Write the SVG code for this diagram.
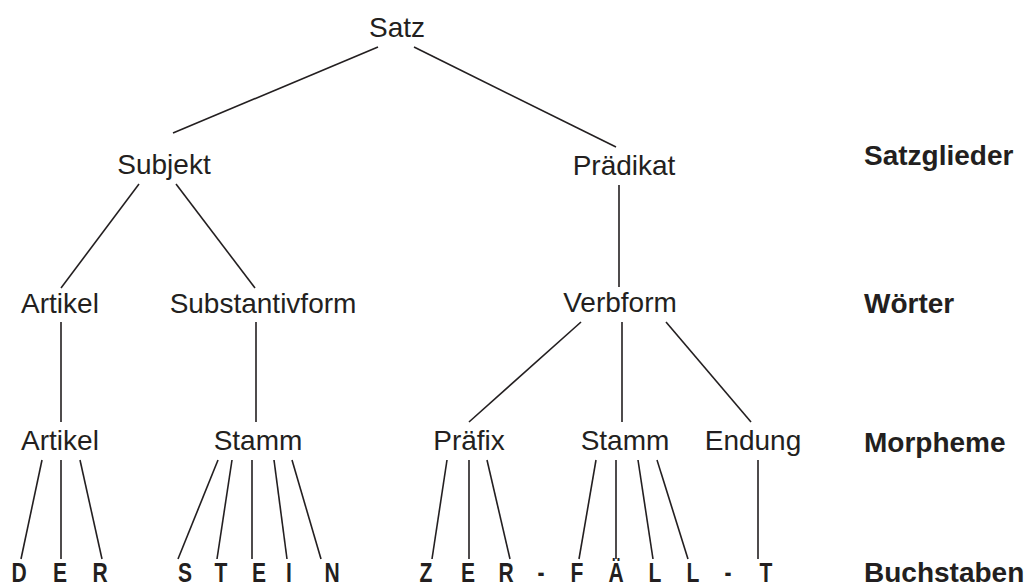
<svg xmlns="http://www.w3.org/2000/svg" width="1028" height="588" viewBox="0 0 1028 588">
  <style>
    .n { font-family: "Liberation Sans", Arial, sans-serif; font-size: 28px; fill: #231f20; text-anchor: middle; }
    .lvl { font-family: "Liberation Sans", Arial, sans-serif; font-size: 28px; font-weight: bold; fill: #231f20; }
    .ch { font-family: "Liberation Sans", Arial, sans-serif; font-size: 27px; font-weight: bold; fill: #231f20; text-anchor: middle; }
    .e { stroke: #231f20; stroke-width: 1.6; fill: none; stroke-linecap: butt; }
  </style>
  <rect width="1028" height="588" fill="#ffffff"/>

  <!-- tree edges -->
  <g id="connectors" class="e">
    <line x1="378" y1="47" x2="173" y2="133"/>
    <line x1="414" y1="47" x2="616" y2="147"/>
    <line x1="139" y1="184" x2="61" y2="288"/>
    <line x1="176" y1="184" x2="255" y2="288"/>
    <line x1="619" y1="185" x2="619" y2="287"/>
    <line x1="61" y1="322" x2="61" y2="422"/>
    <line x1="256" y1="322" x2="256" y2="422"/>
    <line x1="581" y1="322" x2="469" y2="422"/>
    <line x1="622" y1="322" x2="622" y2="422"/>
    <line x1="666" y1="322" x2="751" y2="422"/>
    <!-- Artikel -> D E R -->
    <line x1="42" y1="460" x2="21" y2="559"/>
    <line x1="61" y1="460" x2="61" y2="559"/>
    <line x1="80" y1="460" x2="102" y2="559"/>
    <!-- Stamm -> S T E I N -->
    <line x1="218" y1="460" x2="178" y2="559"/>
    <line x1="232" y1="460" x2="217" y2="559"/>
    <line x1="252" y1="460" x2="252" y2="559"/>
    <line x1="274" y1="460" x2="287" y2="559"/>
    <line x1="292" y1="460" x2="321" y2="559"/>
    <!-- Präfix -> Z E R -->
    <line x1="447" y1="460" x2="432" y2="559"/>
    <line x1="469" y1="460" x2="469" y2="559"/>
    <line x1="487" y1="460" x2="510" y2="559"/>
    <!-- Stamm -> F Ä L L -->
    <line x1="596" y1="460" x2="579" y2="559"/>
    <line x1="616" y1="460" x2="616" y2="559"/>
    <line x1="638" y1="460" x2="653" y2="559"/>
    <line x1="657" y1="460" x2="688" y2="559"/>
    <!-- Endung -> T -->
    <line x1="758" y1="460" x2="758" y2="559"/>
  </g>

  <!-- sentence level -->
  <g id="satz"><text class="n" x="397" y="37">Satz</text></g>
  <g id="subjekt"><text class="n" x="164" y="174">Subjekt</text></g>
  <g id="praedikat"><text class="n" x="624" y="175">Prädikat</text></g>

  <!-- words -->
  <g id="artikel-wort"><text class="n" x="60" y="313">Artikel</text></g>
  <g id="substantivform"><text class="n" x="263" y="313">Substantivform</text></g>
  <g id="verbform"><text class="n" x="620" y="312">Verbform</text></g>

  <!-- morphemes -->
  <g id="artikel-morphem"><text class="n" x="60" y="450">Artikel</text></g>
  <g id="stamm-1"><text class="n" x="258" y="450">Stamm</text></g>
  <g id="praefix"><text class="n" x="469" y="450">Präfix</text></g>
  <g id="stamm-2"><text class="n" x="625" y="450">Stamm</text></g>
  <g id="endung"><text class="n" x="753" y="450">Endung</text></g>

  <!-- letters, set condensed by a horizontal squeeze -->
  <g id="letters">
    <g id="l-d1" transform="translate(19 582) scale(0.78 1)"><text class="ch">D</text></g>
    <g id="l-e1" transform="translate(60 582) scale(0.78 1)"><text class="ch">E</text></g>
    <g id="l-r1" transform="translate(100 582) scale(0.78 1)"><text class="ch">R</text></g>
    <g id="l-s" transform="translate(185 582) scale(0.78 1)"><text class="ch">S</text></g>
    <g id="l-t1" transform="translate(221 582) scale(0.78 1)"><text class="ch">T</text></g>
    <g id="l-e2" transform="translate(259 582) scale(0.78 1)"><text class="ch">E</text></g>
    <g id="l-i" transform="translate(289 582) scale(0.78 1)"><text class="ch">I</text></g>
    <g id="l-n" transform="translate(332 582) scale(0.78 1)"><text class="ch">N</text></g>
    <g id="l-z" transform="translate(426 582) scale(0.78 1)"><text class="ch">Z</text></g>
    <g id="l-e3" transform="translate(468 582) scale(0.78 1)"><text class="ch">E</text></g>
    <g id="l-r2" transform="translate(506 582) scale(0.78 1)"><text class="ch">R</text></g>
    <g id="l-dash1" transform="translate(541 582) scale(0.78 1)"><text class="ch">-</text></g>
    <g id="l-f" transform="translate(577 582) scale(0.78 1)"><text class="ch">F</text></g>
    <g id="l-ae" transform="translate(616 582) scale(0.78 1)"><text class="ch">Ä</text></g>
    <g id="l-l1" transform="translate(655 582) scale(0.78 1)"><text class="ch">L</text></g>
    <g id="l-l2" transform="translate(693 582) scale(0.78 1)"><text class="ch">L</text></g>
    <g id="l-dash2" transform="translate(728 582) scale(0.78 1)"><text class="ch">-</text></g>
    <g id="l-t2" transform="translate(766 582) scale(0.78 1)"><text class="ch">T</text></g>
  </g>

  <!-- level labels -->
  <g id="levels">
    <text class="lvl" x="864" y="165">Satzglieder</text>
    <text class="lvl" x="864" y="313">Wörter</text>
    <text class="lvl" x="864" y="452">Morpheme</text>
    <text class="lvl" x="864" y="582">Buchstaben</text>
  </g>
</svg>
